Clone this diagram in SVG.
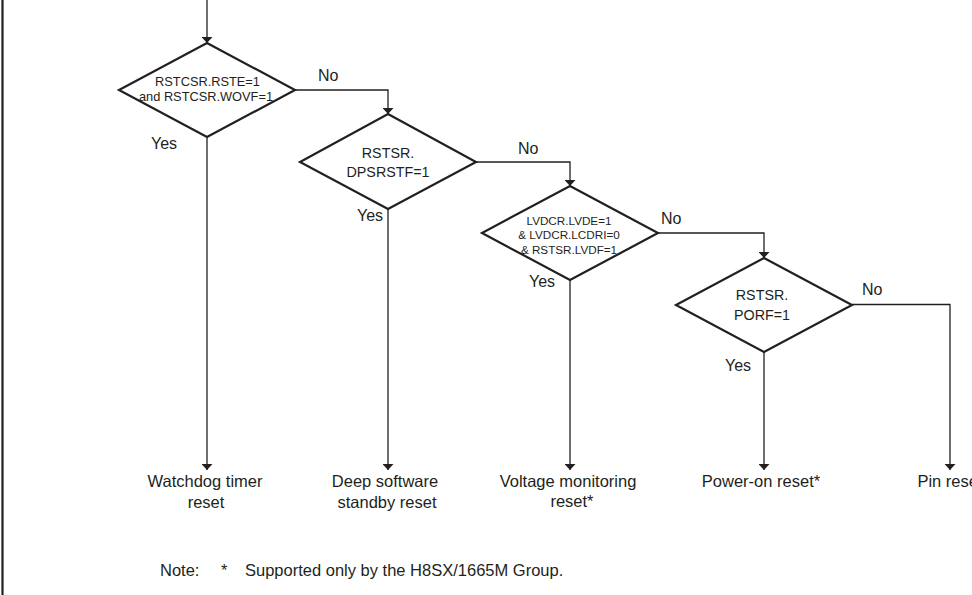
<svg xmlns="http://www.w3.org/2000/svg" width="972" height="595" viewBox="0 0 972 595">
  <style>
    text { font-family: "Liberation Sans", Arial, Helvetica, sans-serif; fill: #231f20; }
    .dia { fill: #ffffff; stroke: #231f20; stroke-width: 2.2; stroke-linejoin: miter; }
    .wire { fill: none; stroke: #231f20; stroke-width: 1.3; }
    .lbl { font-size: 16.5px; text-anchor: middle; }
    .yn { font-size: 16px; }
    .c13 { font-size: 12.8px; text-anchor: middle; }
    .c14 { font-size: 14.3px; text-anchor: middle; }
    .c12 { font-size: 11.7px; text-anchor: middle; }
  </style>
  <defs>
    <marker id="arrow" viewBox="0 0 6 11" refX="6" refY="5.5" markerWidth="6" markerHeight="11" markerUnits="userSpaceOnUse" orient="auto">
      <path d="M0,0 L6,5.5 L0,11 Z" fill="#231f20"/>
    </marker>
  </defs>

  <rect x="0" y="0" width="972" height="595" fill="#ffffff"/>

  <!-- left frame edge -->
  <line x1="2.5" y1="0" x2="2.5" y2="595" stroke="#231f20" stroke-width="2.2"/>

  <!-- connectors -->
  <g id="connectors" class="wire" marker-end="url(#arrow)">
    <path d="M207,0 V43"/>
    <path d="M295,90 H388 V114"/>
    <path d="M207,138 V470"/>
    <path d="M476,162 H570 V186"/>
    <path d="M388,209 V470"/>
    <path d="M658,233 H764 V258"/>
    <path d="M570,280 V470"/>
    <path d="M852,304.5 H950 V470"/>
    <path d="M764,352 V470"/>
  </g>

  <!-- decision: watchdog -->
  <g id="d-wdt">
    <polygon class="dia" points="207,43 295,90 207,137 119,90"/>
    <text class="c13" x="207.5" y="86">RSTCSR.RSTE=1</text>
    <text class="c13" x="206" y="101">and RSTCSR.WOVF=1</text>
    <text class="yn" x="151" y="149">Yes</text>
    <text class="yn" x="318" y="81">No</text>
  </g>

  <!-- decision: deep software standby -->
  <g id="d-dps">
    <polygon class="dia" points="388,114 476,162 388,209 300,162"/>
    <text class="c14" x="388" y="157.5">RSTSR.</text>
    <text class="c14" x="388" y="177">DPSRSTF=1</text>
    <text class="yn" x="357" y="221">Yes</text>
    <text class="yn" x="518" y="154">No</text>
  </g>

  <!-- decision: voltage monitoring -->
  <g id="d-lvd">
    <polygon class="dia" points="570,186 658,233 570,280 482,233"/>
    <text class="c12" x="569" y="224.5">LVDCR.LVDE=1</text>
    <text class="c12" x="569" y="239">&amp; LVDCR.LCDRI=0</text>
    <text class="c12" x="569" y="253.5">&amp; RSTSR.LVDF=1</text>
    <text class="yn" x="529" y="287">Yes</text>
    <text class="yn" x="661" y="224">No</text>
  </g>

  <!-- decision: power-on -->
  <g id="d-por">
    <polygon class="dia" points="764,258 852,305 764,352 676,305"/>
    <text class="c14" x="762" y="300">RSTSR.</text>
    <text class="c14" x="762" y="319.5">PORF=1</text>
    <text class="yn" x="725" y="371">Yes</text>
    <text class="yn" x="862" y="295">No</text>
  </g>

  <!-- outcomes -->
  <g id="r-wdt">
    <text class="lbl" x="205" y="487">Watchdog timer</text>
    <text class="lbl" x="206" y="508">reset</text>
  </g>
  <g id="r-dps">
    <text class="lbl" x="385" y="487">Deep software</text>
    <text class="lbl" x="387" y="508">standby reset</text>
  </g>
  <g id="r-lvd">
    <text class="lbl" x="568" y="487">Voltage monitoring</text>
    <text class="lbl" x="572" y="507">reset*</text>
  </g>
  <g id="r-por">
    <text class="lbl" x="761" y="487">Power-on reset*</text>
  </g>
  <g id="r-pin">
    <text class="lbl" x="950" y="487">Pin reset</text>
  </g>

  <!-- footnote -->
  <g id="note">
    <text class="lbl" x="160" y="576" style="text-anchor:start">Note:</text>
    <text class="lbl" x="221" y="576" style="text-anchor:start">*</text>
    <text class="lbl" x="245" y="576" style="text-anchor:start">Supported only by the H8SX/1665M Group.</text>
  </g>
</svg>
